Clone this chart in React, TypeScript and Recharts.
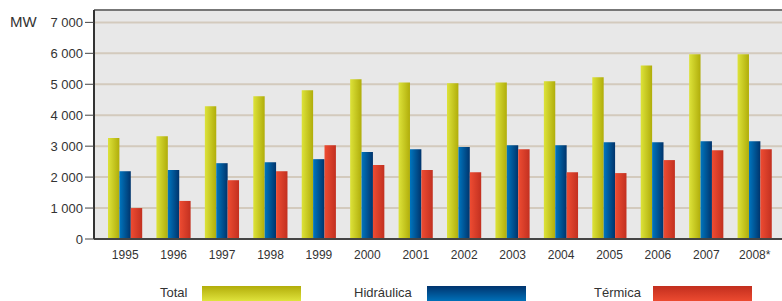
import {
  BarChart,
  Bar,
  XAxis,
  YAxis,
  CartesianGrid,
  ReferenceLine,
} from 'recharts';

/* ---- data ---- */
const YEARS = [
  '1995', '1996', '1997', '1998', '1999', '2000', '2001',
  '2002', '2003', '2004', '2005', '2006', '2007', '2008*',
];
const TOTAL = [3260, 3320, 4290, 4610, 4810, 5160, 5060, 5030, 5060, 5100, 5230, 5610, 5970, 5970];
const HIDRAULICA = [2190, 2230, 2450, 2480, 2580, 2810, 2900, 2970, 3030, 3030, 3130, 3130, 3160, 3160];
const TERMICA = [1000, 1230, 1900, 2190, 3030, 2390, 2230, 2160, 2900, 2160, 2130, 2550, 2870, 2900];
const Y_TICKS = [0, 1000, 2000, 3000, 4000, 5000, 6000, 7000];
const Y_MAX = 7400;

const rows = YEARS.map((year, i) => ({
  year,
  total: TOTAL[i],
  hidraulica: HIDRAULICA[i],
  termica: TERMICA[i],
}));

const NARROW = '"Liberation Sans Narrow", "Arial Narrow", "Liberation Sans", sans-serif';
const SANS = '"Liberation Sans", Arial, sans-serif';

const fmt = (v: number) => (v >= 1000 ? `${Math.floor(v / 1000)} ${String(v % 1000).padStart(3, '0')}` : String(v));

const LEGEND = [
  { label: 'Total', textLeft: 160, swLeft: 202, grad: 'linear-gradient(to bottom, #b2ad0a, #dfe33c)' },
  { label: 'Hidráulica', textLeft: 354, swLeft: 427, grad: 'linear-gradient(to bottom, #00346e, #0070b8)' },
  { label: 'Térmica', textLeft: 594, swLeft: 653, grad: 'linear-gradient(to bottom, #c22e1e, #ec4a30)' },
];

export default function App() {
  return (
    <div style={{ position: 'absolute', left: 0, top: 0, width: 782, height: 301, background: '#fff', overflow: 'hidden' }}>
      <div style={{ position: 'absolute', left: 10, top: 13, fontFamily: SANS, fontSize: 15, color: '#333' }}>MW</div>
      <BarChart
        width={782}
        height={270}
        data={rows}
        margin={{ top: 10, right: 0, left: 0, bottom: 0 }}
        barGap={0}
        barSize={11.4}
      >
        <defs>
          <linearGradient id="gTotal" x1="0" y1="0" x2="1" y2="0">
            <stop offset="0" stopColor="#dde33a" />
            <stop offset="1" stopColor="#b0ad0a" />
          </linearGradient>
          <linearGradient id="gHid" x1="0" y1="0" x2="1" y2="0">
            <stop offset="0" stopColor="#0076bf" />
            <stop offset="1" stopColor="#00346c" />
          </linearGradient>
          <linearGradient id="gTer" x1="0" y1="0" x2="1" y2="0">
            <stop offset="0" stopColor="#ee4c32" />
            <stop offset="1" stopColor="#c23020" />
          </linearGradient>
        </defs>
        <CartesianGrid
          vertical={false}
          stroke="#d3cabd"
          strokeWidth={2}
          fill="#e8e8e8"
          fillOpacity={1}
        />
        <ReferenceLine y={Y_MAX} stroke="#777" strokeWidth={2} />
        <XAxis
          dataKey="year"
          height={31}
          tickLine={false}
          axisLine={{ stroke: '#444', strokeWidth: 2 }}
          tick={{ fill: '#333', fontSize: 12, fontFamily: NARROW }}
          tickMargin={5}
          padding={{ left: 7, right: 3 }}
          interval={0}
        />
        <YAxis
          width={94}
          domain={[0, Y_MAX]}
          ticks={Y_TICKS}
          allowDataOverflow
          tickFormatter={fmt}
          tickSize={9}
          tickMargin={2}
          tickLine={{ stroke: '#444' }}
          axisLine={{ stroke: '#333', strokeWidth: 2 }}
          tick={{ fill: '#333', fontSize: 13, fontFamily: SANS }}
        />
        <Bar dataKey="total" fill="url(#gTotal)" isAnimationActive={false} />
        <Bar dataKey="hidraulica" fill="url(#gHid)" isAnimationActive={false} />
        <Bar dataKey="termica" fill="url(#gTer)" isAnimationActive={false} />
      </BarChart>
      {LEGEND.map((l) => (
        <div key={l.label}>
          <div
            style={{
              position: 'absolute',
              left: l.textLeft,
              top: 285,
              fontFamily: NARROW,
              fontSize: 13,
              color: '#333',
            }}
          >
            {l.label}
          </div>
          <div
            style={{
              position: 'absolute',
              left: l.swLeft,
              top: 286,
              width: 99,
              height: 15,
              background: l.grad,
            }}
          />
        </div>
      ))}
    </div>
  );
}
